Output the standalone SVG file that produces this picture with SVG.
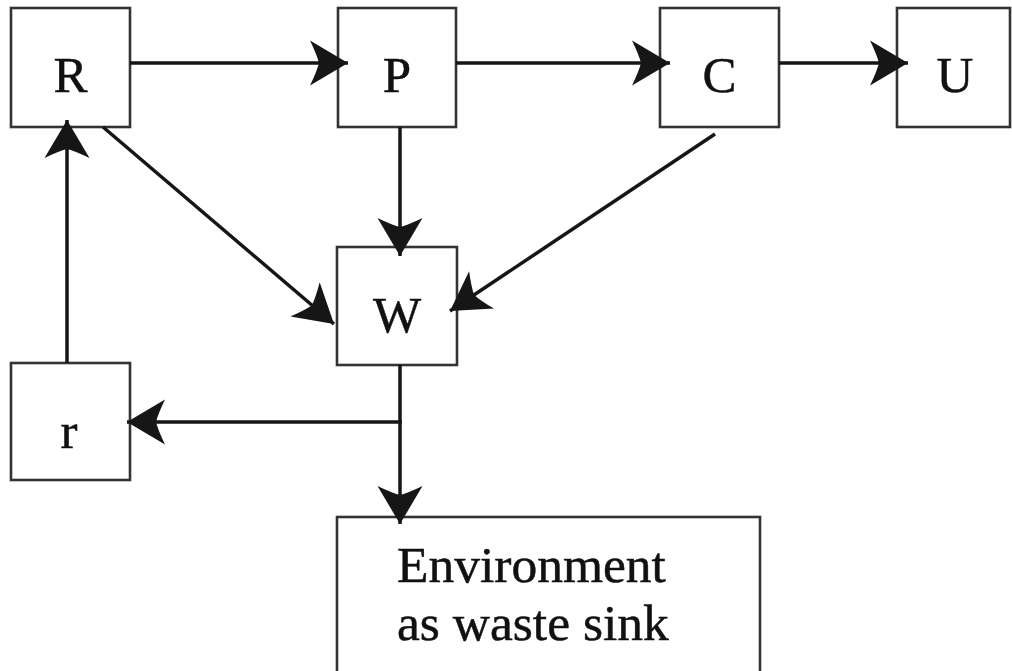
<svg xmlns="http://www.w3.org/2000/svg" width="1012" height="671" viewBox="0 0 1012 671">
  <style>
    .box { fill: #ffffff; stroke: #333333; stroke-width: 2.6; }
    .lbl { font-family: "Liberation Serif", "Times New Roman", serif; font-size: 51px; fill: #111111; stroke: #111111; stroke-width: 0.5; text-anchor: middle; }
    .env { font-family: "Liberation Serif", "Times New Roman", serif; font-size: 51.5px; fill: #111111; stroke: #111111; stroke-width: 0.5; }
    .edge { fill: none; stroke: #161616; stroke-width: 3.5; }
    .arrow { marker-end: url(#head); }
  </style>
  <defs>
    <!-- barbed arrowhead, tip at the path end -->
    <marker id="head" markerUnits="userSpaceOnUse" markerWidth="44" markerHeight="50" viewBox="-42 -25 44 50" refX="0" refY="0" orient="auto">
      <path d="M0,0 L-38,-22.5 Q-31,-8 -29,0 Q-31,8 -38,22.5 Z" fill="#161616"/>
    </marker>
  </defs>

  <rect width="1012" height="671" fill="#ffffff"/>

  <!-- nodes -->
  <g id="node-R">
    <rect class="box" x="11" y="8" width="119" height="119"/>
    <text class="lbl" x="70.5" y="92">R</text>
  </g>
  <g id="node-P">
    <rect class="box" x="338" y="8" width="118" height="119"/>
    <text class="lbl" x="397" y="92">P</text>
  </g>
  <g id="node-C">
    <rect class="box" x="660" y="8" width="119" height="119"/>
    <text class="lbl" x="719.5" y="92">C</text>
  </g>
  <g id="node-U">
    <rect class="box" x="897" y="8" width="113" height="119"/>
    <text class="lbl" x="955" y="92">U</text>
  </g>
  <g id="node-W">
    <rect class="box" x="337" y="247" width="120" height="118"/>
    <text class="lbl" x="397" y="332">W</text>
  </g>
  <g id="node-r">
    <rect class="box" x="11" y="363" width="119" height="117"/>
    <text class="lbl" x="69" y="448">r</text>
  </g>
  <g id="node-env">
    <rect class="box" x="337" y="517" width="423" height="170"/>
    <text class="env" x="397" y="582">Environment</text>
    <text class="env" x="397" y="640">as waste sink</text>
  </g>

  <!-- connectors, drawn over the boxes so the tips overlap the borders -->
  <g id="connectors">
    <line class="edge arrow" x1="130" y1="63" x2="348" y2="63"/>
    <line class="edge arrow" x1="456" y1="63" x2="670" y2="63"/>
    <line class="edge arrow" x1="779" y1="63" x2="908" y2="63"/>
    <line class="edge arrow" x1="400" y1="127" x2="400" y2="256"/>
    <line class="edge arrow" x1="103" y1="127" x2="334" y2="324"/>
    <line class="edge arrow" x1="715" y1="134" x2="450" y2="311"/>
    <line class="edge arrow" x1="67" y1="363" x2="67" y2="120"/>
    <line class="edge" x1="400" y1="365" x2="400" y2="422"/>
    <line class="edge arrow" x1="401.7" y1="422" x2="127" y2="422"/>
    <line class="edge arrow" x1="400" y1="420" x2="400" y2="524"/>
  </g>
</svg>
